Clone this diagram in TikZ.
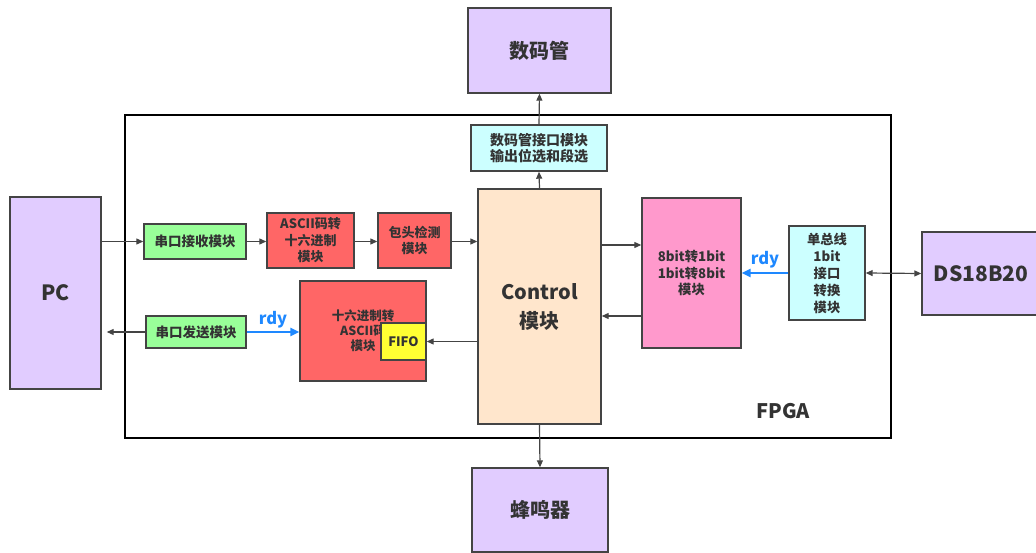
\documentclass[tikz,border=0pt]{standalone}
\usepackage{fontspec}
\setmainfont{Noto Sans CJK SC}
\usetikzlibrary{arrows.meta}
\definecolor{txt}{HTML}{333333}
\definecolor{edge}{HTML}{444444}
\definecolor{lilac}{HTML}{E1CCFF}
\definecolor{peach}{HTML}{FFE6CC}
\definecolor{ltcyan}{HTML}{CCFFFF}
\definecolor{ltgreen}{HTML}{99FF99}
\definecolor{salmon}{HTML}{FF6666}
\definecolor{pinkbox}{HTML}{FF99CC}
\definecolor{fifoy}{HTML}{FFFF33}
\definecolor{rdyblue}{HTML}{1E88FF}
\tikzset{
  blk/.style={draw=edge, line width=1.4pt, inner sep=0pt, align=center,
    text=txt, font=\bfseries\fontsize{13.5}{16}\selectfont},
  bigblk/.style={blk, fill=lilac, font=\bfseries\fontsize{20}{24}\selectfont},
  arr/.style={draw=edge, line width=1.2pt, -{Triangle[length=7pt,width=6pt]}},
  darr/.style={draw=edge, line width=1.2pt, {Triangle[length=7pt,width=6pt]}-{Triangle[length=7pt,width=6pt]}},
  barr/.style={draw=rdyblue, line width=2.4pt, -{Triangle[length=9pt,width=8pt]}},
  rdylbl/.style={text=rdyblue, font=\bfseries\fontsize{16.5}{18}\selectfont, inner sep=1pt}
}
\begin{document}
\begin{tikzpicture}[x=1pt,y=-1pt]
\useasboundingbox (0,0) rectangle (1036,553);
\begin{scope}
\clip (0,0) rectangle (1036,553);
% FPGA frame
\node[draw=black, line width=2pt, minimum width=766pt, minimum height=323pt, inner sep=0pt] (fpga) at (508,276.5) {};
\node[text=txt, font=\bfseries\fontsize{20}{22}\selectfont] (fpgalbl) at (783,411) {FPGA};

% external devices
\node[bigblk, minimum width=143pt, minimum height=85pt] (seg) at (539.5,50.5) {数码管};
\node[bigblk, minimum width=136pt, minimum height=84pt] (buzz) at (540,510) {蜂鸣器};
\node[bigblk, minimum width=91pt, minimum height=192pt, font=\bfseries\fontsize{21}{24}\selectfont] (pc) at (55.5,293) {PC};
\node[bigblk, minimum width=118pt, minimum height=83pt, font=\bfseries\fontsize{21}{24}\selectfont] (ds) at (981,273.5) {DS18B20};

% FPGA internals
\node[blk, fill=ltcyan, minimum width=136pt, minimum height=46pt, font=\bfseries\fontsize{14}{16}\selectfont] (segif) at (539,148) {数码管接口模块\\输出位选和段选};
\node[blk, fill=peach, minimum width=123pt, minimum height=235pt, font=\bfseries\fontsize{20}{29}\selectfont] (ctrl) at (539.5,306.5) {Control\\模块};
\node[blk, fill=ltgreen, minimum width=102pt, minimum height=35pt] (rx) at (195,241.5) {串口接收模块};
\node[blk, fill=salmon, minimum width=87pt, minimum height=55pt, font=\bfseries\fontsize{13}{16.5}\selectfont] (a2h) at (310.5,240.5) {ASCII码转\\十六进制\\模块};
\node[blk, fill=salmon, minimum width=73pt, minimum height=55pt, font=\bfseries\fontsize{13}{16.5}\selectfont] (hdr) at (414.5,240.5) {包头检测\\模块};
\node[blk, fill=salmon, minimum width=126pt, minimum height=100pt, font=\bfseries\fontsize{12.5}{15}\selectfont] (h2a) at (363,331) {十六进制转\\ASCII码\\模块};
\node[blk, fill=fifoy, minimum width=45pt, minimum height=37pt, font=\bfseries\fontsize{13}{16}\selectfont] (fifo) at (403.5,341.5) {FIFO};
\node[blk, fill=ltgreen, minimum width=100pt, minimum height=32pt] (tx) at (196,332) {串口发送模块};
\node[blk, fill=pinkbox, minimum width=99pt, minimum height=150pt, font=\bfseries\fontsize{13.3}{16.5}\selectfont] (conv) at (691.5,273) {8bit转1bit\\1bit转8bit\\模块};
\node[blk, fill=ltcyan, minimum width=76pt, minimum height=94pt, font=\bfseries\fontsize{13.3}{17}\selectfont] (ow) at (827,273) {单总线\\1bit\\接口\\转换\\模块};

% connector rows
\coordinate (rowA) at (0,245);
\coordinate (rowB) at (0,316);

% serial path
\draw[arr] (pc.east |- rx.west) -- (rx.west);
\draw[arr] (rx.east) -- (a2h.west |- rx.east);
\draw[arr] (a2h.east |- rx.east) -- (hdr.west |- rx.east);
\draw[arr] (hdr.east |- rx.east) -- (ctrl.west |- rx.east);
\draw[arr] (ctrl.west |- fifo.east) -- (fifo.east);
\draw[barr] (tx.east) -- (tx.east -| h2a.west) node[rdylbl, midway, above=2pt] (rdy1) {rdy};
\draw[arr] (tx.west) -- ([xshift=5pt]tx.west -| pc.east);

% one-wire path
\draw[arr] (ctrl.east |- rowA) -- (conv.west |- rowA);
\draw[arr] (conv.west |- rowB) -- (ctrl.east |- rowB);
\draw[barr] (ow.west) -- (ow.west -| conv.east) node[rdylbl, midway, above=3pt] (rdy2) {rdy};
\draw[darr] (ow.east) -- (ds.west);

% display and buzzer
\draw[arr] (ctrl.north) -- (segif.south);
\draw[arr] (segif.north) -- (seg.south);
\draw[arr] (ctrl.south) -- (buzz.north);
\end{scope}
\end{tikzpicture}
\end{document}
